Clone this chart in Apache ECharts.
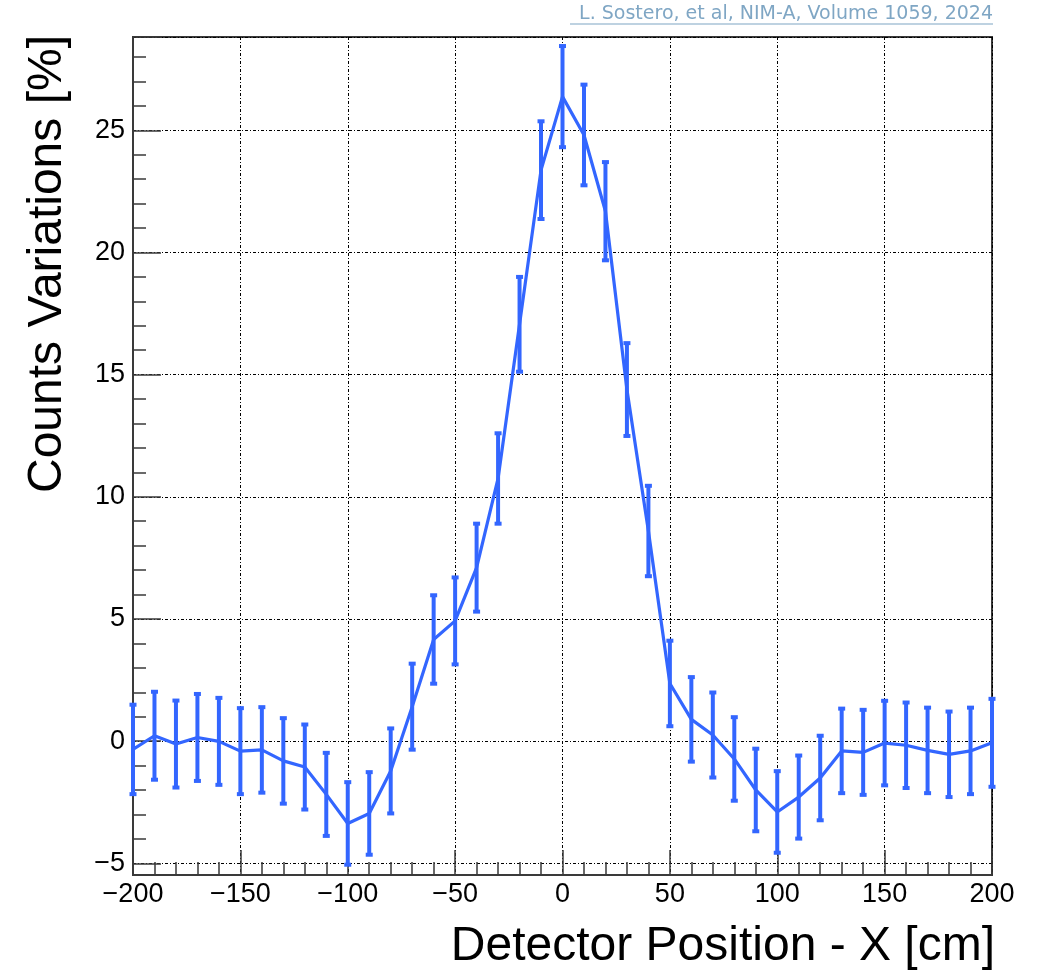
<!DOCTYPE html>
<html>
<head>
<meta charset="utf-8">
<style>
  html, body { margin: 0; padding: 0; background: #ffffff; }
  #chart { width: 1038px; height: 974px; }
</style>
<script src="https://cdn.jsdelivr.net/npm/echarts@6/dist/echarts.min.js"></script>
</head>
<body>
<div id="chart"></div>
<script>
// Detector positions along X [cm]
const positions = [-200, -190, -180, -170, -160, -150, -140, -130, -120, -110,
                   -100, -90, -80, -70, -60, -50, -40, -30, -20, -10,
                   0, 10, 20, 30, 40, 50, 60, 70, 80, 90,
                   100, 110, 120, 130, 140, 150, 160, 170, 180, 190, 200];

// Counts variation at each position [%]
const variations = [-0.34, 0.22, -0.12, 0.15, -0.01, -0.41, -0.36, -0.81, -1.06, -2.18,
                    -3.37, -2.96, -1.22, 1.41, 4.16, 4.92, 7.1, 10.75, 17.06, 23.37,
                    26.38, 24.81, 21.69, 14.39, 8.6, 2.36, 0.89, 0.25, -0.73, -2.0,
                    -2.9, -2.29, -1.51, -0.4, -0.46, -0.08, -0.17, -0.38, -0.54, -0.4, -0.07];

// Symmetric uncertainty on each variation [%]
const uncertainties = [1.83, 1.8, 1.78, 1.78, 1.78, 1.76, 1.75, 1.75, 1.74, 1.7,
                       1.69, 1.69, 1.74, 1.76, 1.81, 1.78, 1.8, 1.85, 1.94, 2.0,
                       2.07, 2.06, 2.01, 1.9, 1.85, 1.75, 1.73, 1.74, 1.71, 1.69,
                       1.67, 1.7, 1.73, 1.73, 1.74, 1.73, 1.75, 1.75, 1.75, 1.77, 1.8];

// Axis ranges and titles
const xRange = [-200, 200];
const yRange = [-5.48, 28.82];
const xTitle = 'Detector Position - X [cm]';
const yTitle = 'Counts Variations [%]';
const citation = 'L. Sostero, et al, NIM-A, Volume 1059, 2024';

const BLUE = '#3366ff';
const FRAME = '#3a3a3a';
const CITE = '#7fa6c4';
const FONT = 'Liberation Sans, Arial, sans-serif';

const linePoints = positions.map((x, i) => [x, variations[i]]);
const errorRows = positions.map((x, i) => [x, variations[i] - uncertainties[i], variations[i] + uncertainties[i]]);

// Tick labels use a true minus sign
const fmt = v => {
  const r = Math.round(v * 1000) / 1000;
  return String(r).replace('-', '\u2212');
};

const gridLine = { show: true, lineStyle: { color: '#000', width: 1, type: [3, 2, 1, 2] } };

const chart = echarts.init(document.getElementById('chart'), null, { renderer: 'canvas' });

chart.setOption({
  animation: false,
  backgroundColor: '#ffffff',
  grid: {
    left: 133, right: 46, top: 37, bottom: 99,
    show: true, borderColor: FRAME, borderWidth: 2, backgroundColor: 'transparent'
  },
  xAxis: {
    type: 'value',
    min: xRange[0], max: xRange[1], interval: 50,
    axisLine: { show: true, onZero: false, lineStyle: { color: FRAME, width: 2 } },
    axisTick: { show: true, inside: true, length: 25, lineStyle: { color: FRAME, width: 1.5 } },
    minorTick: { show: true, splitNumber: 5, length: 13, lineStyle: { color: FRAME, width: 1.5 } },
    splitLine: gridLine,
    axisLabel: {
      color: '#000', fontFamily: FONT, fontSize: 27, margin: 6,
      formatter: fmt
    }
  },
  yAxis: {
    type: 'value',
    min: yRange[0], max: yRange[1], splitNumber: 7,
    axisLine: { show: true, onZero: false, lineStyle: { color: FRAME, width: 2 } },
    axisTick: { show: true, inside: true, length: 28, lineStyle: { color: FRAME, width: 1.5 } },
    minorTick: { show: true, splitNumber: 5, length: 13, lineStyle: { color: FRAME, width: 1.5 } },
    splitLine: gridLine,
    axisLabel: {
      color: '#000', fontFamily: FONT, fontSize: 27, margin: 8,
      showMinLabel: false, showMaxLabel: false,
      formatter: fmt
    }
  },
  series: [
    {
      type: 'line',
      data: linePoints,
      showSymbol: false,
      symbol: 'none',
      clip: false,
      lineStyle: { color: BLUE, width: 3.2 },
      z: 3
    },
    {
      type: 'custom',
      data: errorRows,
      clip: false,
      z: 4,
      encode: { x: 0, y: [1, 2] },
      renderItem: function (params, api) {
        const x = api.value(0);
        const lo = api.coord([x, api.value(1)]);
        const hi = api.coord([x, api.value(2)]);
        const capW = 7, capH = 4;
        const style = { fill: BLUE };
        return {
          type: 'group',
          children: [
            { type: 'line', shape: { x1: lo[0], y1: lo[1], x2: hi[0], y2: hi[1] },
              style: { stroke: BLUE, lineWidth: 4 } },
            { type: 'rect', shape: { x: hi[0] - capW / 2, y: hi[1] - capH / 2, width: capW, height: capH }, style: style },
            { type: 'rect', shape: { x: lo[0] - capW / 2, y: lo[1] - capH / 2, width: capW, height: capH }, style: style }
          ]
        };
      }
    }
  ],
  graphic: [
    {
      type: 'text',
      x: 995, y: 947,
      style: {
        text: xTitle, fill: '#000', font: '48px ' + FONT,
        textAlign: 'right', textVerticalAlign: 'middle'
      }
    },
    {
      type: 'text',
      x: 48, y: 35,
      rotation: Math.PI / 2,
      style: {
        text: yTitle, fill: '#000', font: '48px ' + FONT,
        textAlign: 'right', textVerticalAlign: 'middle'
      }
    },
    {
      type: 'text',
      x: 993, y: 14,
      style: {
        text: citation, fill: CITE, font: '19px "DejaVu Sans", sans-serif',
        textAlign: 'right', textVerticalAlign: 'middle'
      }
    },
    {
      type: 'line',
      shape: { x1: 570, y1: 24, x2: 993, y2: 24 },
      style: { stroke: CITE, lineWidth: 1.2 }
    }
  ]
});
</script>
</body>
</html>
